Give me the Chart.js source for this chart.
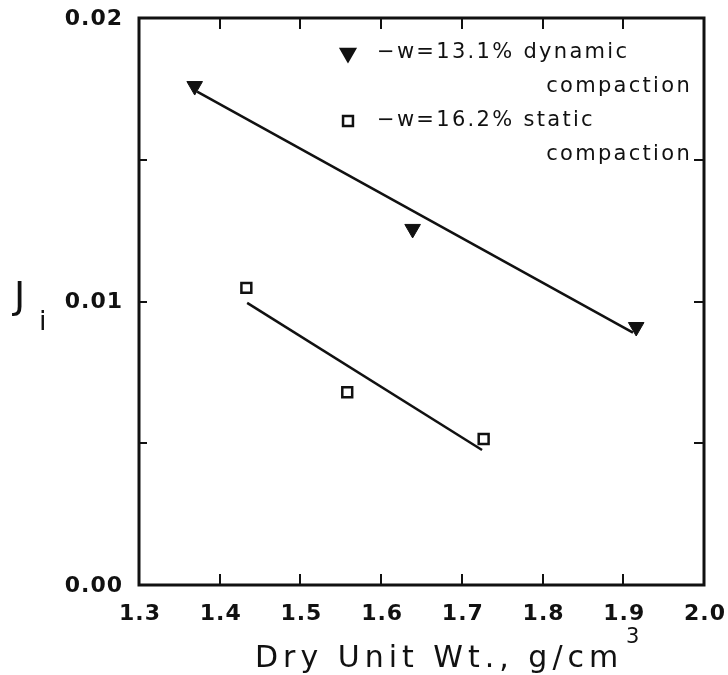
<!DOCTYPE html>
<html>
<head>
<meta charset="utf-8">
<script src="https://cdn.jsdelivr.net/npm/chart.js@4"></script>
<style>
  html, body { margin: 0; padding: 0; background: #fff; }
  #wrap { width: 728px; height: 675px; position: relative; }
</style>
</head>
<body>
<div id="wrap"><canvas id="chart-main" width="728" height="675"></canvas></div>
<script>
/* global Chart */

// dynamic compaction, w = 13.1%
const dynX = [1.369, 1.639, 1.916];
const dynY = [0.0176, 0.01256, 0.0091];
// static compaction, w = 16.2%
const statX = [1.433, 1.558, 1.727];
const statY = [0.01048, 0.0068, 0.00515];
// fitted lines (end points as drawn)
const dynFitX = [1.372, 1.912];
const dynFitY = [0.0174, 0.0089];
const statFitX = [1.434, 1.725];
const statFitY = [0.00995, 0.00476];

const xTicks = [1.3, 1.4, 1.5, 1.6, 1.7, 1.8, 1.9, 2.0];
const xTickLabels = ["1.3", "1.4", "1.5", "1.6", "1.7", "1.8", "1.9", "2.0"];
const yTicks = [0, 0.005, 0.01, 0.015, 0.02];
const yTickLabels = ["0.00", "", "0.01", "", "0.02"];

const legendRows = [
  { style: "triangle", text: "\u2212w=13.1% dynamic", text2: "compaction" },
  { style: "rect", text: "\u2212w=16.2% static", text2: "compaction" },
];

const FONT = "'DejaVu Sans', sans-serif";

const toPts = (xs, ys) => xs.map((x, i) => ({ x, y: ys[i] }));

const framePlugin = {
  id: "frame",
  afterDatasetsDraw(chart) {
    const { ctx, chartArea: a, scales } = chart;
    ctx.save();
    ctx.strokeStyle = "#111";
    ctx.fillStyle = "#111";
    ctx.lineWidth = 3;
    ctx.strokeRect(a.left, a.top, a.right - a.left, a.bottom - a.top);
    ctx.lineWidth = 2;
    ctx.beginPath();
    for (const v of xTicks) {
      const px = Math.round(scales.x.getPixelForValue(v));
      ctx.moveTo(px, a.bottom); ctx.lineTo(px, a.bottom - 11);
      ctx.moveTo(px, a.top); ctx.lineTo(px, a.top + 11);
    }
    for (const v of yTicks) {
      const py = Math.round(scales.y.getPixelForValue(v));
      ctx.moveTo(a.left, py); ctx.lineTo(a.left + 8, py);
      ctx.moveTo(a.right, py); ctx.lineTo(a.right - 10, py);
    }
    ctx.stroke();

    // tick labels
    ctx.font = `bold 22px ${FONT}`;
    ctx.letterSpacing = "1px";
    ctx.textAlign = "center";
    ctx.textBaseline = "middle";
    xTicks.forEach((v, i) => {
      ctx.fillText(xTickLabels[i], scales.x.getPixelForValue(v) + 1, a.bottom + 29);
    });
    ctx.textAlign = "right";
    yTicks.forEach((v, i) => {
      if (yTickLabels[i]) ctx.fillText(yTickLabels[i], a.left - 16, scales.y.getPixelForValue(v) + 1);
    });

    // legend
    ctx.font = `21px ${FONT}`;
    ctx.letterSpacing = "2.3px";
    legendRows.forEach((r, i) => {
      const y = a.top + 35 + i * 68;
      ctx.fillStyle = r.style === "rect" ? "#fff" : "#111";
      ctx.lineWidth = 2.5;
      Chart.helpers.drawPoint(ctx, {
        pointStyle: r.style,
        radius: r.style === "rect" ? 7 : 8,
        rotation: r.style === "triangle" ? 180 : 0,
        borderWidth: 2.5,
      }, 348, y);
      ctx.fillStyle = "#111";
      ctx.textAlign = "left";
      ctx.fillText(r.text, 377, y);
      ctx.textAlign = "right";
      ctx.fillText(r.text2, 692, y + 34);
    });

    // axis titles
    ctx.textAlign = "left";
    ctx.textBaseline = "alphabetic";
    ctx.font = `30px ${FONT}`;
    ctx.letterSpacing = "5px";
    ctx.fillText("Dry Unit Wt., g/cm", 255, 667);
    ctx.font = `21px ${FONT}`;
    ctx.letterSpacing = "0px";
    ctx.fillText("3", 626, 643);
    ctx.font = `38px ${FONT}`;
    ctx.fillText("J", 14, 308);
    ctx.font = `27px ${FONT}`;
    ctx.fillText("i", 39, 330);
    ctx.restore();
  },
};

const ctx = document.getElementById("chart-main").getContext("2d");
new Chart(ctx, {
  type: "scatter",
  data: {
    datasets: [
      {
        label: "dynamic",
        data: toPts(dynX, dynY),
        pointStyle: "triangle",
        rotation: 180,
        radius: 9,
        backgroundColor: "#111",
        borderColor: "#111",
        borderWidth: 1,
      },
      {
        label: "static",
        data: toPts(statX, statY),
        pointStyle: "rect",
        radius: 7,
        backgroundColor: "#fff",
        borderColor: "#111",
        borderWidth: 2.5,
      },
      {
        label: "dynamic fit",
        data: toPts(dynFitX, dynFitY),
        showLine: true,
        pointRadius: 0,
        borderColor: "#111",
        borderWidth: 2.5,
      },
      {
        label: "static fit",
        data: toPts(statFitX, statFitY),
        showLine: true,
        pointRadius: 0,
        borderColor: "#111",
        borderWidth: 2.5,
      },
    ],
  },
  options: {
    responsive: false,
    animation: false,
    devicePixelRatio: 1,
    layout: { padding: { left: 0, top: 18, right: 24, bottom: 0 } },
    plugins: { legend: { display: false }, tooltip: { enabled: false } },
    scales: {
      x: {
        min: 1.3,
        max: 2.0,
        afterBuildTicks: (s) => { s.ticks = xTicks.map((v) => ({ value: v })); },
        afterFit: (s) => { s.height = 90; },
        grid: { display: false, drawTicks: false },
        border: { display: false },
        ticks: { display: false },
      },
      y: {
        min: 0,
        max: 0.02,
        afterBuildTicks: (s) => { s.ticks = yTicks.map((v) => ({ value: v })); },
        afterFit: (s) => { s.width = 139; },
        grid: { display: false, drawTicks: false },
        border: { display: false },
        ticks: { display: false },
      },
    },
  },
  plugins: [framePlugin],
});
</script>
</body>
</html>
